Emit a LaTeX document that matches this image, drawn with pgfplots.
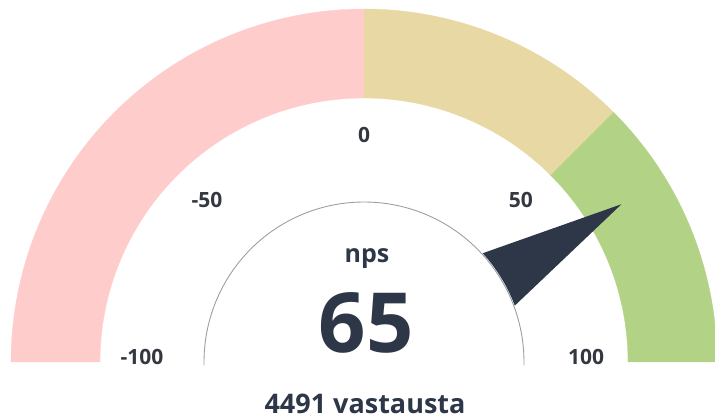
\documentclass[border=0pt]{standalone}
\usepackage{pgfplots}
\usepackage{pgfplotstable}
\pgfplotsset{compat=1.18}
\usepgfplotslibrary{fillbetween}
\usepackage{fontspec}
\setmainfont{Open Sans}
\definecolor{cred}{HTML}{FFCCCC}
\definecolor{ctan}{HTML}{E8D8A4}
\definecolor{cgreen}{HTML}{B2D385}
\definecolor{cneedle}{HTML}{2D3748}
\definecolor{ctext}{HTML}{2D3748}
\definecolor{clabel}{HTML}{333740}
\definecolor{cgrid}{HTML}{9AA0A8}

% gauge geometry (pixel units): centre (364,362), band radii 264..353
\newcommand{\gband}[4]{%
  \addplot[draw=none, name path=o#4, domain=#1:#2, samples=80]
    ({364+353*cos(180-(x+100)*0.9)}, {362-353*sin(180-(x+100)*0.9)});
  \addplot[draw=none, name path=i#4, domain=#1:#2, samples=80]
    ({364+264*cos(180-(x+100)*0.9)}, {362-264*sin(180-(x+100)*0.9)});
  \addplot[fill=#3, draw=#3, line width=0.3bp] fill between[of=o#4 and i#4];
}

\pgfplotstableread{
v label
-100 -100
-50 -50
0 0
50 50
100 100
}\ticktable

\pgfplotstableread{
v r
65 302
52.78 161
55.8 161
58.9 161
62 161
65 161
68 161
71.1 161
74.2 161
77.22 161
}\needletable

\begin{document}
\begin{tikzpicture}
\begin{axis}[width=715bp, height=418bp, scale only axis,
  xmin=0, xmax=715, ymin=0, ymax=418, y dir=reverse, hide axis]
\gband{-100}{0}{cred}{a}
\gband{0}{50}{ctan}{b}
\gband{50}{100}{cgreen}{c}
% needle
\addplot[fill=cneedle, draw=none] table[
  x expr={364+\thisrow{r}*cos(180-(\thisrow{v}+100)*0.9)},
  y expr={362-\thisrow{r}*sin(180-(\thisrow{v}+100)*0.9)}] {\needletable};
% inner thin circle
\addplot[draw=cgrid, line width=0.9bp, domain=-1.2:181.2, samples=120]
  ({364+160*cos(x)}, {362-160*sin(x)});
% scale labels
\addplot[only marks, mark=none, nodes near coords, point meta=explicit symbolic,
  nodes near coords style={anchor=center, inner sep=0pt, text=clabel,
    font=\fontsize{21bp}{24bp}\selectfont\bfseries}]
  table[x expr={364+222*cos(180-(\thisrow{v}+100)*0.9)},
        y expr={357-222*sin(180-(\thisrow{v}+100)*0.9)}, meta=label] {\ticktable};
% centre texts
\node[anchor=base, inner sep=0pt, text=ctext, font=\fontsize{25bp}{28bp}\selectfont\bfseries]
  at (axis cs:367,263) {nps};
\node[anchor=base, inner sep=0pt, text=ctext, font=\fontsize{83bp}{90bp}\selectfont\bfseries]
  at (axis cs:366,353) {65};
\node[anchor=base, inner sep=0pt, text=ctext, font=\fontsize{27bp}{30bp}\selectfont\bfseries]
  at (axis cs:365,413) {4491 vastausta};
\end{axis}
\end{tikzpicture}
\end{document}
